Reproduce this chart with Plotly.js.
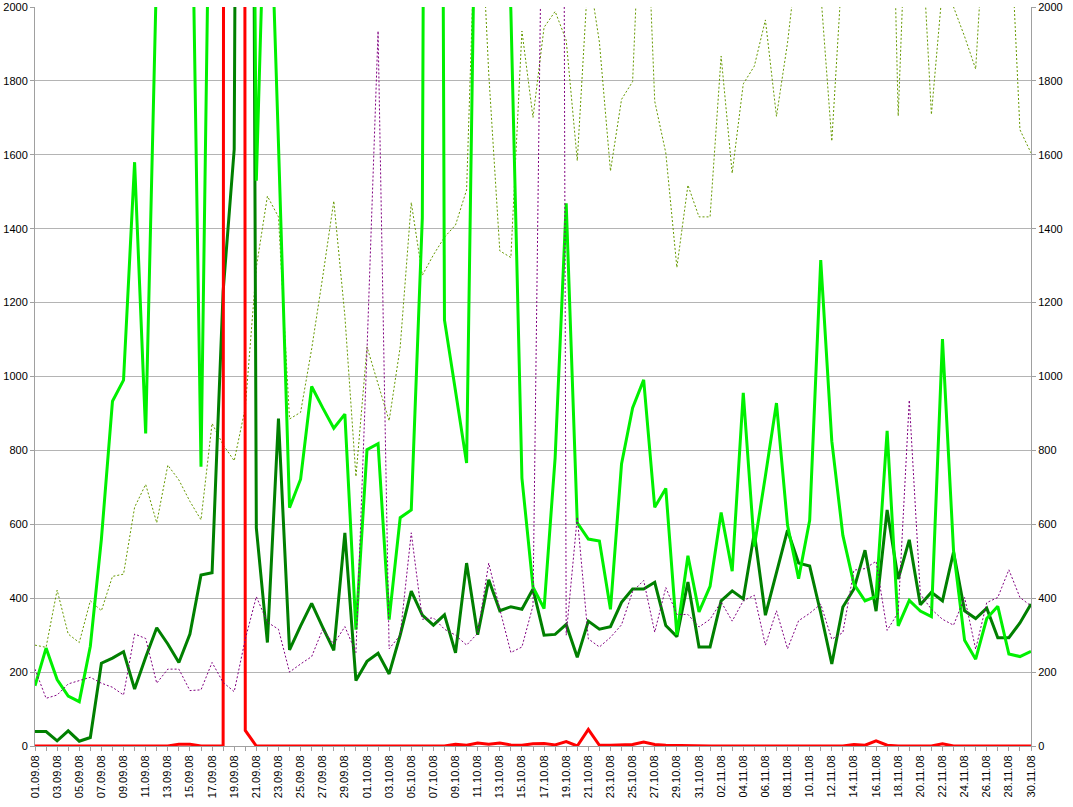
<!DOCTYPE html>
<html>
<head>
<meta charset="utf-8">
<script src="https://cdn.plot.ly/plotly-3.0.1.min.js"></script>
<style>
html,body{margin:0;padding:0;background:#fff;}
#chart{width:1073px;height:807px;}
</style>
</head>
<body>
<div id="chart"></div>
<script>
// Dates (categories)
const dates = [
"01.09.08","02.09.08","03.09.08","04.09.08","05.09.08","06.09.08","07.09.08","08.09.08","09.09.08","10.09.08",
"11.09.08","12.09.08","13.09.08","14.09.08","15.09.08","16.09.08","17.09.08","18.09.08","19.09.08","20.09.08",
"21.09.08","22.09.08","23.09.08","24.09.08","25.09.08","26.09.08","27.09.08","28.09.08","29.09.08","30.09.08",
"01.10.08","02.10.08","03.10.08","04.10.08","05.10.08","06.10.08","07.10.08","08.10.08","09.10.08","10.10.08",
"11.10.08","12.10.08","13.10.08","14.10.08","15.10.08","16.10.08","17.10.08","18.10.08","19.10.08","20.10.08",
"21.10.08","22.10.08","23.10.08","24.10.08","25.10.08","26.10.08","27.10.08","28.10.08","29.10.08","30.10.08",
"31.10.08","01.11.08","02.11.08","03.11.08","04.11.08","05.11.08","06.11.08","07.11.08","08.11.08","09.11.08",
"10.11.08","11.11.08","12.11.08","13.11.08","14.11.08","15.11.08","16.11.08","17.11.08","18.11.08","19.11.08",
"20.11.08","21.11.08","22.11.08","23.11.08","24.11.08","25.11.08","26.11.08","27.11.08","28.11.08","29.11.08",
"30.11.08"];

// Tick labels shown on the axis (every second day)
const tickLabels = [
"01.09.08","","03.09.08","","05.09.08","","07.09.08","","09.09.08","",
"11.09.08","","13.09.08","","15.09.08","","17.09.08","","19.09.08","",
"21.09.08","","23.09.08","","25.09.08","","27.09.08","","29.09.08","",
"01.10.08","","03.10.08","","05.10.08","","07.10.08","","09.10.08","",
"11.10.08","","13.10.08","","15.10.08","","17.10.08","","19.10.08","",
"21.10.08","","23.10.08","","25.10.08","","27.10.08","","29.10.08","",
"31.10.08","","02.11.08","","04.11.08","","06.11.08","","08.11.08","",
"10.11.08","","12.11.08","","14.11.08","","16.11.08","","18.11.08","",
"20.11.08","","22.11.08","","24.11.08","","26.11.08","","28.11.08","",
"30.11.08"];

// Series values
const limeSeries = [
163,265,180,135,120,270,560,933,990,1580,
846,2115,2600,2800,2700,756,2900,3500,4500,5420,
1530,2570,1630,645,722,973,915,860,898,315,
802,818,342,618,639,1430,9000,1153,960,766,
2800,3000,2800,1990,725,430,372,780,1469,604,
560,555,370,763,915,991,646,697,301,515,
363,432,632,473,956,540,731,928,598,453,
611,1315,825,570,438,393,405,853,325,394,
365,350,1101,529,286,235,345,378,249,242,
256];

const greenSeries = [
39,39,14,41,13,23,224,238,255,154,
240,320,276,226,303,463,469,1230,1615,8000,
590,280,886,260,325,386,321,259,577,177,
229,251,195,300,419,354,327,355,252,495,
301,450,366,377,370,425,300,302,329,240,
338,316,323,389,425,425,443,326,296,444,
268,268,393,420,398,577,354,473,584,495,
487,360,222,376,425,530,365,639,452,558,
382,416,393,525,366,345,373,293,293,333,
384];

const redSeries = [
0,0,0,0,0,0,0,0,0,0,
1,0,0,5,5,0,0,0,60000,42,
0,0,0,0,0,0,0,0,0,0,
0,0,0,0,0,0,0,0,5,2,
8,5,8,3,2,6,7,3,12,0,
45,2,2,4,4,11,4,2,1,0,
0,0,0,0,0,0,0,0,0,0,
0,0,0,0,4,2,14,2,0,0,
0,0,6,0,0,0,0,0,0,0,
0];

const oliveSeries = [
273,267,422,303,280,393,366,459,465,646,
708,604,760,720,662,612,873,815,772,915,
1295,1488,1432,885,903,1075,1270,1475,1164,729,
1080,983,880,1080,1471,1274,1329,1377,1410,1505,
2450,1820,1340,1322,1935,1701,1945,1988,1910,1584,
2100,1905,1556,1750,1798,2500,1745,1605,1295,1518,
1432,1432,1867,1550,1792,1840,1965,1704,1903,2164,
2300,2040,1637,2136,2300,2400,2300,3000,1705,2500,
2274,1709,2052,2000,1920,1832,2336,2400,2320,1668,
1605];

const purpleSeries = [
208,129,138,168,177,186,170,159,138,303,
291,170,208,208,150,152,226,172,147,289,
404,335,316,200,222,242,316,276,323,253,
1070,1935,263,300,577,343,347,316,300,273,
305,495,370,253,268,380,2800,10000,300,620,
290,268,294,328,418,448,308,429,356,356,
322,343,390,338,393,408,273,366,263,339,
359,384,289,307,476,480,500,313,361,936,
411,370,343,327,402,262,388,402,477,402,
379];

const font = {family: "Liberation Sans, Arial, sans-serif", size: 11, color: "#000"};

const traces = [
  {x: dates, y: oliveSeries, type: "scatter", mode: "lines", line: {color: "#669900", width: 1, dash: "2px,2px"}, hoverinfo: "skip"},
  {x: dates, y: purpleSeries, type: "scatter", mode: "lines", line: {color: "#800080", width: 1, dash: "2px,2px"}, yaxis: "y2", hoverinfo: "skip"},
  {x: dates, y: greenSeries, type: "scatter", mode: "lines", line: {color: "#008000", width: 3}, hoverinfo: "skip"},
  {x: dates, y: limeSeries, type: "scatter", mode: "lines", line: {color: "#00f000", width: 3}, hoverinfo: "skip"},
  {x: dates, y: redSeries, type: "scatter", mode: "lines", line: {color: "#ff0000", width: 3}, hoverinfo: "skip"}
];

const layout = {
  width: 1073, height: 807,
  margin: {l: 35, r: 42, t: 7, b: 61, pad: 0},
  paper_bgcolor: "#fff", plot_bgcolor: "#fff",
  showlegend: false,
  font: font,
  xaxis: {
    type: "category", range: [0, 90], autorange: false,
    tickmode: "array", tickvals: dates, ticktext: tickLabels,
    tickangle: -90, ticks: "outside", ticklen: 4, tickcolor: "#a0a0a0", tickwidth: 1,
    showline: true, linecolor: "#a0a0a0", linewidth: 1,
    showgrid: false, zeroline: false, tickfont: font, automargin: false
  },
  yaxis: {
    range: [0, 2000], autorange: false, dtick: 200, tick0: 0,
    ticks: "outside", ticklen: 4, tickcolor: "#a0a0a0",
    showline: true, linecolor: "#a0a0a0", linewidth: 1,
    showgrid: true, gridcolor: "#b4b4b4", gridwidth: 1, zeroline: false,
    tickfont: font, automargin: false
  },
  yaxis2: {
    overlaying: "y", side: "right",
    range: [0, 2000], autorange: false, dtick: 200, tick0: 0,
    ticks: "outside", ticklen: 4, tickcolor: "#a0a0a0",
    showline: true, linecolor: "#a0a0a0", linewidth: 1,
    showgrid: false, zeroline: false, tickfont: font, automargin: false
  }
};

Plotly.newPlot("chart", traces, layout, {staticPlot: true, displayModeBar: false});
</script>
</body>
</html>
